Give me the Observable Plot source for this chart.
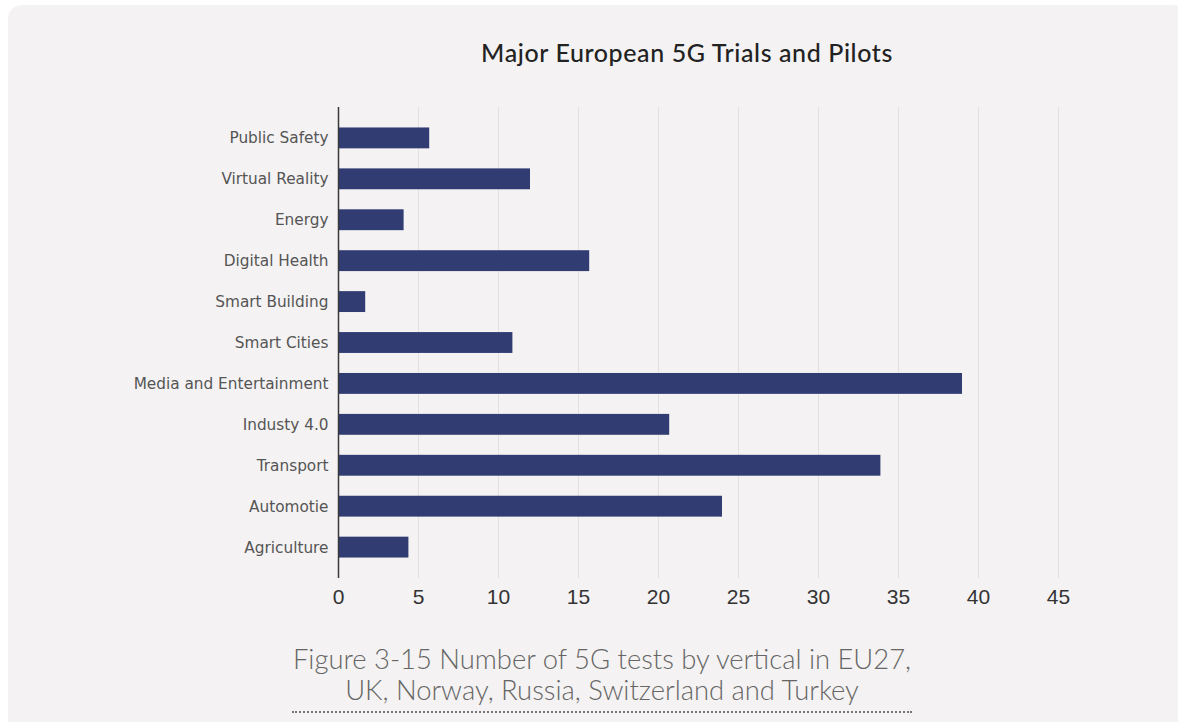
<!DOCTYPE html>
<html>
<head>
<meta charset="utf-8">
<script src="https://cdn.jsdelivr.net/npm/d3@7"></script>
<script src="https://cdn.jsdelivr.net/npm/@observablehq/plot@0.6"></script>
<style>
  html, body { margin: 0; padding: 0; background: #ffffff; width: 1178px; height: 722px; overflow: hidden; }
  #card { position: absolute; left: 8px; top: 5px; width: 1180px; height: 730px; background: #f4f2f2; border-radius: 14px; }
  #title { position: absolute; left: 0; width: 1374px; top: 37px; text-align: center; font-family: "Lato", sans-serif; font-size: 25px; font-weight: 500; color: #222; letter-spacing: 0.6px; }
  #chart { position: absolute; left: 0; top: 90px; }
  #caption { position: absolute; left: 262px; width: 680px; top: 643px; text-align: center; font-family: "Lato", sans-serif; font-weight: 300; font-size: 27.4px; line-height: 31px; color: #666; }
  #dots { position: absolute; left: 292px; width: 620px; top: 711px; border-top: 2px dotted #777; }
</style>
</head>
<body>
<div id="card"></div>
<div id="title">Major European 5G Trials and Pilots</div>
<div id="chart"></div>
<div id="caption">Figure 3-15 Number of 5G tests by vertical in EU27,<br>UK, Norway, Russia, Switzerland and Turkey</div>
<div id="dots"></div>
<script>
const categories = ["Public Safety","Virtual Reality","Energy","Digital Health","Smart Building","Smart Cities","Media and Entertainment","Industy 4.0","Transport","Automotie","Agriculture"];
const values = [5.7, 12, 4.1, 15.7, 1.7, 10.9, 39, 20.7, 33.9, 24, 4.4];
const xTicks = [0, 5, 10, 15, 20, 25, 30, 35, 40, 45];

const data = categories.map((c, i) => ({category: c, value: values[i]}));

const chart = Plot.plot({
  width: 1178,
  height: 530,
  marginTop: 17,
  marginBottom: 42,
  marginLeft: 338,
  marginRight: 120,
  style: {background: "transparent", color: "#333"},
  x: {domain: [0, 45], label: null},
  y: {domain: categories, paddingInner: 0.49, paddingOuter: 0.5, round: false, label: null},
  marks: [
    Plot.gridX(xTicks.slice(1), {stroke: "#e2e0e0", strokeOpacity: 1, strokeWidth: 1}),
    Plot.barX(data, {x: "value", y: "category", fill: "#313d72"}),
    Plot.ruleX([0], {stroke: "#3a3a3a", strokeWidth: 1.5}),
    Plot.axisX({ticks: xTicks, tickSize: 0, tickPadding: 11, fontSize: 21, fontFamily: "Liberation Sans, Arial, sans-serif", fill: "#333", label: null}),
    Plot.axisY({tickSize: 0, tickPadding: 10, fontSize: 15.3, fontFamily: "DejaVu Sans, sans-serif", fill: "#555", label: null})
  ]
});
document.getElementById("chart").appendChild(chart);
</script>
</body>
</html>
